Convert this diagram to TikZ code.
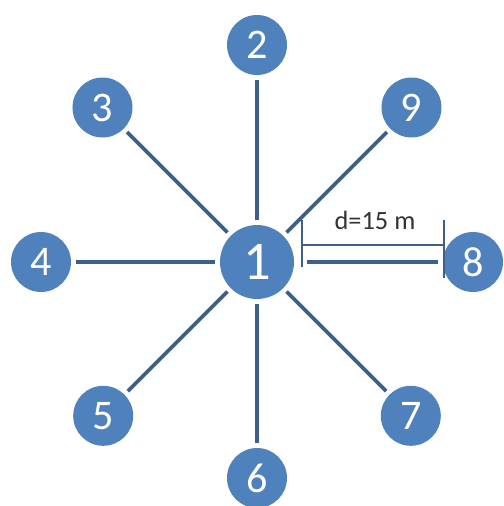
\documentclass[tikz,border=0pt]{standalone}
\usepackage{fontspec}
\setmainfont{Carlito}
\definecolor{nodeblue}{HTML}{4F81BD}
\definecolor{edgeblue}{HTML}{3E5F8C}

\begin{document}
\begin{tikzpicture}
    [station/.style={circle, fill=nodeblue, text=white, inner sep=0pt, minimum size=1.2cm, font=\fontsize{24}{26}\selectfont},
     hub/.style={station, minimum size=1.48cm, font=\fontsize{31}{33}\selectfont},
     link/.style={draw=edgeblue, line width=2.2pt, shorten <=2.5pt, shorten >=2.5pt},
     dim/.style={draw=edgeblue, line width=0.6pt}]
  \useasboundingbox (-5.14,-4.88) rectangle (4.92,5.24);
  \node[hub] (n1) at (0,0) {1};
  \node[station] (n2) at (90:4.34) {2};
  \node[station] (n3) at (135:4.37) {3};
  \node[station] (n4) at (180:4.32) {4};
  \node[station] (n5) at (225:4.35) {5};
  \node[station] (n6) at (270:4.32) {6};
  \node[station] (n7) at (315:4.35) {7};
  \node[station] (n8) at (0:4.32) {8};
  \node[station] (n9) at (45:4.37) {9};

  \foreach \to in {n2, n3, n4, n5, n6, n7, n9}
    \draw[link] (n1) -- (\to);
  \draw[link, shorten <=7pt] (n1) -- (n8);

  % distance marker
  \coordinate (a1) at (0.9,0.84);
  \coordinate (a2) at (0.9,-0.1);
  \coordinate (b1) at (3.74,0.84);
  \coordinate (b2) at (3.74,-0.32);
  \draw[dim] (a1) -- (a2);
  \draw[dim] (b1) -- (b2);
  \draw[dim] (a1 |- 0,0.34) -- (b1 |- 0,0.34);
  \node[font=\fontsize{15}{17}\selectfont, text=black!80] (dlab) at (2.36,0.84) {d=15 m};
\end{tikzpicture}
\end{document}
